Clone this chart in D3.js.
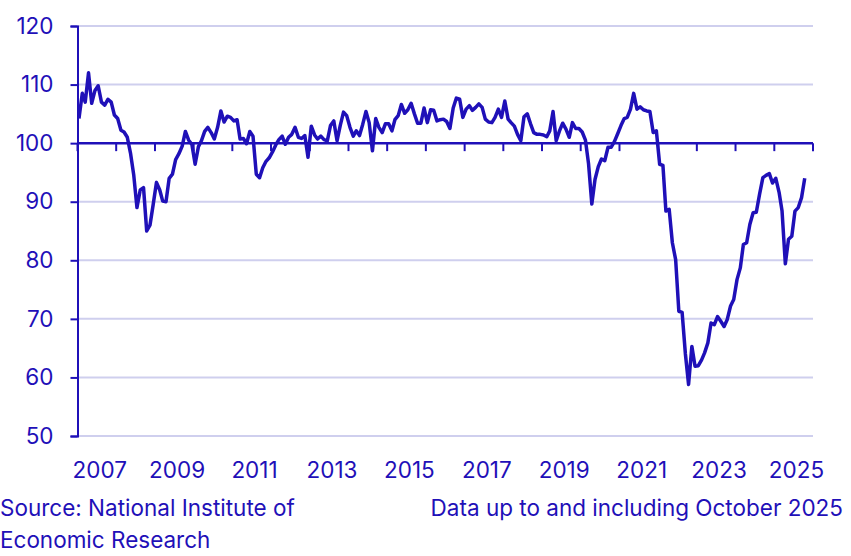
<!DOCTYPE html>
<html lang="en">
<head>
  <meta charset="UTF-8" />
  <title>Confidence indicator</title>
  <script src="https://d3js.org/d3.v7.min.js"></script>
  <style>
    body {
      margin: 0;
      background: #fff;
    }
    text {
      font-family: Inter, Roboto, sans-serif;
      fill: #1f10b8;
    }
  </style>
</head>
<body>
  <svg width="851" height="556" id="chart"></svg>

  <script>
    const svg = d3.select("#chart");
    const blue = "#1f10b8";
    const font = "Inter, Roboto, sans-serif";
    const fontSize = "22.5px";

    // monthly values, Jan 2007 .. Oct 2025
    const startYear = 2007;
    const values = [
      104.2, 108.5, 107, 112, 106.8, 109, 109.8, 107, 106.5, 107.5, 107, 104.8,
      104.2, 102.2, 101.9, 101, 98.3, 94.5, 89, 92, 92.4, 85, 86, 89.5,
      93.3, 92, 90.1, 90, 94, 94.7, 97.2, 98.2, 99.5, 102, 100.5, 99.8,
      96.4, 99.4, 100.4, 102, 102.7, 101.8, 100.7, 102.7, 105.5, 103.6, 104.6, 104.4,
      103.8, 104, 100.7, 100.8, 99.9, 102, 101.2, 94.7, 94.1, 95.8, 96.9, 97.5,
      98.5, 99.7, 100.6, 101.2, 99.8, 101, 101.5, 102.7, 101, 100.8, 101.3, 97.6,
      102.9, 101.4, 100.7, 101.2, 100.6, 100.4, 103, 103.8, 100.4, 103, 105.3, 104.7,
      102.7, 101.2, 102.1, 101.3, 103.2, 105.4, 103.5, 98.7, 104.2, 102.7, 101.8, 103.3,
      103.3, 102.1, 104, 104.7, 106.6, 105.1, 105.7, 106.8, 105, 103.4, 103.4, 106,
      103.5, 105.7, 105.6, 103.8, 104, 104.1, 103.7, 102.5, 106, 107.7, 107.5, 104.4,
      105.8, 106.4, 105.6, 106.1, 106.7, 106.1, 104.1, 103.6, 103.5, 104.4, 105.8, 104.4,
      107.2, 104.1, 103.5, 102.9, 101.5, 100.4, 104.5, 105, 103.3, 101.8, 101.5, 101.5,
      101.4, 101.1, 102.1, 105.4, 100.4, 102.1, 103.4, 102.4, 101, 103.5, 102.5, 102.5,
      101.9, 100.5, 96.5, 89.6, 93.8, 96, 97.3, 97, 99.3, 99.3, 100.3, 101.6,
      103, 104.2, 104.4, 105.8, 108.5, 105.8, 106.2, 105.7, 105.5, 105.4, 101.8, 102.1,
      96.4, 96.2, 88.4, 88.7, 83, 80.1, 71.3, 71.1, 64, 58.8, 65.3, 61.9,
      62, 63, 64.2, 65.9, 69.3, 69, 70.4, 69.6, 68.7, 69.9, 72.2, 73.3,
      76.7, 78.7, 82.7, 83, 86.1, 88.1, 88.2, 91.3, 94.1, 94.5, 94.8, 93.2,
      94, 91.6, 88.4, 79.4, 83.6, 84.1, 88.4, 89, 90.7, 94
    ];
    const yTicks = [50, 60, 70, 80, 90, 100, 110, 120];
    const yearTicks = d3.range(2007, 2027);
    const yearLabels = [2007, 2009, 2011, 2013, 2015, 2017, 2019, 2021, 2023, 2025];

    const data = values.map((v, i) => ({
      date: new Date(startYear, i, 15),
      value: v
    }));

    const x = d3.scaleTime()
      .domain([new Date(2007, 0, 1), new Date(2026, 0, 1)])
      .range([77.5, 813]);
    const y = d3.scaleLinear()
      .domain([50, 120])
      .range([436, 26]);

    // gridlines
    svg.append("g")
      .selectAll("line")
      .data(yTicks.filter(d => d !== 100))
      .join("line")
      .attr("x1", x.range()[0])
      .attr("x2", x.range()[1])
      .attr("y1", d => y(d))
      .attr("y2", d => y(d))
      .attr("stroke", "#cfcfee")
      .attr("stroke-width", 2);

    // y axis
    const yAxis = svg.append("g")
      .attr("transform", `translate(${x.range()[0]},0)`)
      .call(d3.axisLeft(y).tickValues(yTicks).tickSize(7).tickPadding(17));
    yAxis.select(".domain").attr("stroke", blue).attr("stroke-width", 2);
    yAxis.selectAll(".tick line").attr("stroke", blue).attr("stroke-width", 2);
    yAxis.selectAll(".tick text")
      .attr("fill", blue)
      .style("font-size", fontSize)
      .style("font-family", font);

    // baseline at 100 with year ticks
    const xAxis = svg.append("g")
      .attr("transform", `translate(0,${y(100)})`);
    xAxis.append("line")
      .attr("x1", x.range()[0])
      .attr("x2", x.range()[1])
      .attr("stroke", blue)
      .attr("stroke-width", 2.5);
    xAxis.selectAll(".yt")
      .data(yearTicks)
      .join("line")
      .attr("class", "yt")
      .attr("x1", d => x(new Date(d, 0, 1)))
      .attr("x2", d => x(new Date(d, 0, 1)))
      .attr("y1", 0)
      .attr("y2", 8)
      .attr("stroke", blue)
      .attr("stroke-width", 2);

    // year labels
    svg.append("g")
      .selectAll("text")
      .data(yearLabels)
      .join("text")
      .attr("x", d => x(new Date(d, 6, 1)) + 3)
      .attr("y", 478)
      .attr("text-anchor", "middle")
      .style("font-size", fontSize)
      .text(d => d);

    // the line
    const line = d3.line()
      .x(d => x(d.date))
      .y(d => y(d.value));

    svg.append("path")
      .datum(data)
      .attr("d", line)
      .attr("fill", "none")
      .attr("stroke", blue)
      .attr("stroke-width", 3.5)
      .attr("stroke-linejoin", "round");

    // footer
    svg.append("text")
      .attr("x", 0)
      .attr("y", 516)
      .style("font-size", fontSize)
      .text("Source: National Institute of");
    svg.append("text")
      .attr("x", 0)
      .attr("y", 548)
      .style("font-size", fontSize)
      .text("Economic Research");
    svg.append("text")
      .attr("x", 843)
      .attr("y", 516)
      .attr("text-anchor", "end")
      .style("font-size", fontSize)
      .text("Data up to and including October 2025");
  </script>
</body>
</html>
